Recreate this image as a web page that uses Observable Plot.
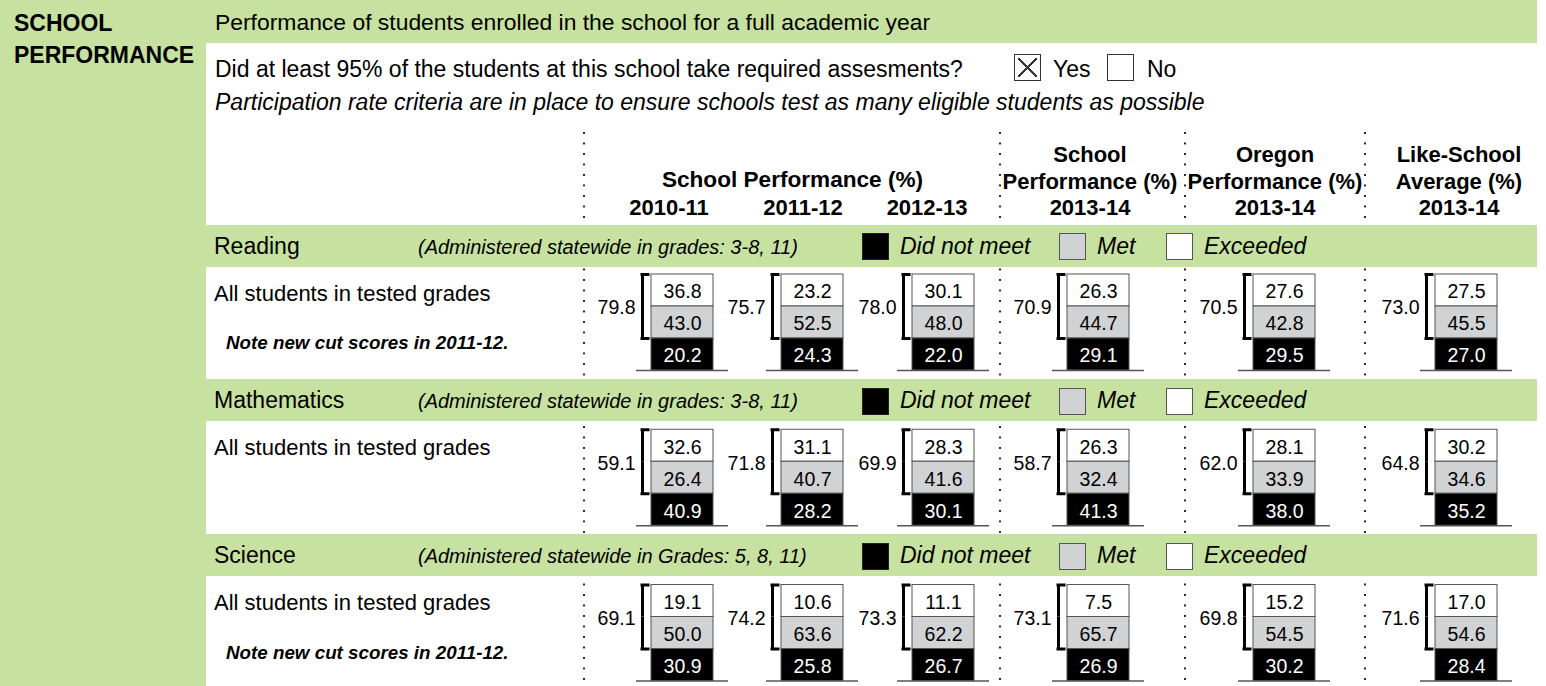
<!DOCTYPE html>
<html><head><meta charset="utf-8">
<script src="https://cdn.jsdelivr.net/npm/d3@7"></script>
<script src="https://cdn.jsdelivr.net/npm/@observablehq/plot@0.6"></script>
<style>
html,body{margin:0;padding:0;background:#fff;}
#page{position:relative;width:1546px;height:686px;overflow:hidden;font-family:"Liberation Sans",Arial,Helvetica,sans-serif;color:#000;}
.abs{position:absolute;}
.t{position:absolute;white-space:nowrap;line-height:1;}
.dots{position:absolute;width:2px;background-image:linear-gradient(to bottom,#222 2px,transparent 2px);background-size:2px 10.5px;}
.xbox::after{content:"";position:absolute;left:3px;top:3px;right:3px;bottom:3px;
background:linear-gradient(45deg,transparent calc(50% - 0.8px),#333 calc(50% - 0.8px),#333 calc(50% + 0.8px),transparent calc(50% + 0.8px)),
linear-gradient(-45deg,transparent calc(50% - 0.8px),#333 calc(50% - 0.8px),#333 calc(50% + 0.8px),transparent calc(50% + 0.8px));}
</style></head><body><div id="page"></div>
<script>
// ---------------- DATA ----------------
const subjects = ["Reading", "Mathematics", "Science"];
const columns = ["2010-11", "2011-12", "2012-13", "School 2013-14", "Oregon 2013-14", "Like-School 2013-14"];
const levels = ["Exceeded", "Met", "Did not meet"];
const levelColors = ["#ffffff", "#d1d2d4", "#000000"];

const readingExceeded = [36.8, 23.2, 30.1, 26.3, 27.6, 27.5];
const readingMet      = [43.0, 52.5, 48.0, 44.7, 42.8, 45.5];
const readingNotMet   = [20.2, 24.3, 22.0, 29.1, 29.5, 27.0];
const readingTotal    = [79.8, 75.7, 78.0, 70.9, 70.5, 73.0];

const mathExceeded = [32.6, 31.1, 28.3, 26.3, 28.1, 30.2];
const mathMet      = [26.4, 40.7, 41.6, 32.4, 33.9, 34.6];
const mathNotMet   = [40.9, 28.2, 30.1, 41.3, 38.0, 35.2];
const mathTotal    = [59.1, 71.8, 69.9, 58.7, 62.0, 64.8];

const scienceExceeded = [19.1, 10.6, 11.1, 7.5, 15.2, 17.0];
const scienceMet      = [50.0, 63.6, 62.2, 65.7, 54.5, 54.6];
const scienceNotMet   = [30.9, 25.8, 26.7, 26.9, 30.2, 28.4];
const scienceTotal    = [69.1, 74.2, 73.3, 73.1, 69.8, 71.6];

const adminNotes = ["(Administered statewide in grades: 3-8, 11)", "(Administered statewide in grades: 3-8, 11)", "(Administered statewide in Grades: 5, 8, 11)"];
const cutNotes = ["Note new cut scores in 2011-12.", "", "Note new cut scores in 2011-12."];

// --------------- TABLES ----------------
const seriesBySubject = {
  Reading: [readingExceeded, readingMet, readingNotMet, readingTotal],
  Mathematics: [mathExceeded, mathMet, mathNotMet, mathTotal],
  Science: [scienceExceeded, scienceMet, scienceNotMet, scienceTotal]
};
const segments = [], totals = [];
subjects.forEach(s => {
  const arr = seriesBySubject[s];
  columns.forEach((c, ci) => {
    levels.forEach((l, li) => segments.push({subject: s, column: c, level: l, value: arr[li][ci]}));
    totals.push({subject: s, column: c, value: arr[3][ci]});
  });
});

// --------------- LAYOUT ----------------
const FONT = '"Liberation Sans", Arial, Helvetica, sans-serif';
const GREEN = "#c7e1a0";
const page = document.getElementById("page");
function box(x, y, w, h, css = {}, cls = "abs") {
  const d = document.createElement("div"); d.className = cls;
  Object.assign(d.style, {left: x + "px", top: y + "px", width: w + "px", height: h + "px"}, css);
  page.appendChild(d); return d;
}
function text(str, x, base, fs, o = {}) {
  const d = document.createElement("div"); d.className = "t"; d.textContent = str;
  d.style.fontSize = fs + "px"; d.style.top = (base - 0.8465 * fs) + "px";
  if (o.align === "center") { d.style.left = (x - 400) + "px"; d.style.width = "800px"; d.style.textAlign = "center"; }
  else d.style.left = x + "px";
  if (o.bold) d.style.fontWeight = "bold";
  if (o.italic) d.style.fontStyle = "italic";
  page.appendChild(d); return d;
}

const bandTops = [224.5, 379, 534];
const BAND_H = 42.3;
// base green + white panels
box(0, 0, 1537, 686, {background: GREEN});
box(206, 43, 1340, 181.5, {background: "#fff"});
bandTops.forEach((t, i) => box(206, t + BAND_H, 1340, (i < 2 ? bandTops[i + 1] : 686) - t - BAND_H, {background: "#fff"}));
// dotted separators
[584, 1000, 1185, 1365].forEach(x => box(x - 1, 132, 2, 554, {}, "dots"));
// green subject bands
bandTops.forEach(t => box(206, t, 1331, BAND_H, {background: GREEN}));

// header texts
text("SCHOOL", 14, 31, 23, {bold: true});
text("PERFORMANCE", 14, 63, 23, {bold: true});
text("Performance of students enrolled in the school for a full academic year", 215, 30, 22.9);
text("Did at least 95% of the students at this school take required assesments?", 215, 77.5, 23);
text("Participation rate criteria are in place to ensure schools test as many eligible students as possible", 215, 110, 23, {italic: true});
box(1014, 54, 27, 27, {border: "1.5px solid #333", boxSizing: "border-box", background: "#fff"}, "abs xbox");
text("Yes", 1053, 77.5, 23);
box(1107, 54, 27, 27, {border: "1.5px solid #333", boxSizing: "border-box", background: "#fff"});
text("No", 1147, 77.5, 23);

text("School Performance (%)", 792.5, 188, 22.6, {bold: true, align: "center"});
[["2010-11", 669], ["2011-12", 803], ["2012-13", 927]].forEach(([s, x]) => text(s, x, 216, 22, {bold: true, align: "center"}));
[[["School", "Performance (%)", "2013-14"], 1090], [["Oregon", "Performance (%)", "2013-14"], 1275], [["Like-School", "Average (%)", "2013-14"], 1459]]
  .forEach(([lines, x]) => lines.forEach((s, i) => text(s, x, 162.5 + 26.8 * i, 22, {bold: true, align: "center"})));

// subject bands and row labels
subjects.forEach((s, i) => {
  const t = bandTops[i];
  text(s, 214, t + 29.5, 23);
  text(adminNotes[i], 418, t + 29, 20, {italic: true});
  box(862, t + 8.5, 27, 27, {background: "#000", border: "1px solid #222", boxSizing: "border-box"});
  text("Did not meet", 900, t + 29.5, 23, {italic: true});
  box(1059, t + 8.5, 27, 27, {background: levelColors[1], border: "1.5px solid #555", boxSizing: "border-box"});
  text("Met", 1097, t + 29.5, 23, {italic: true});
  box(1166, t + 8.5, 27, 27, {background: "#fff", border: "1.5px solid #555", boxSizing: "border-box"});
  text("Exceeded", 1204, t + 29.5, 23, {italic: true});
  const w = t + BAND_H;
  text("All students in tested grades", 214, w + 34.5, 22);
  if (cutNotes[i]) text(cutNotes[i], 226, w + 83.5, 18.8, {bold: true, italic: true});
});

// --------------- PLOTS (one per column, faceted by subject) ----------------
const barLefts = [651, 781, 912, 1067, 1253, 1435];
const BW = 62, ML = 62, MR = 20;
const BAR_H = 96, STEP = 155.25;
const P = 1 - BAR_H / STEP;
const H = STEP * (3 - P);
const SEG = BAR_H / levels.length;
const PLOT_TOP = 274;
const NUM_FS = 19.5;

columns.forEach((col, ci) => {
  const segs = segments.filter(d => d.column === col);
  const tots = totals.filter(d => d.column === col);
  const base = {x: "column", y: "level", fy: "subject"};
  const chart = Plot.plot({
    width: ML + BW + MR, height: H,
    marginLeft: ML, marginRight: MR, marginTop: 0, marginBottom: 0,
    style: {background: "transparent", overflow: "visible", fontFamily: FONT, maxWidth: "none"},
    x: {domain: [col], padding: 0, round: false, axis: null},
    y: {domain: levels, padding: 0, round: false, axis: null},
    fy: {domain: subjects, paddingInner: P, paddingOuter: 0, round: false, axis: null},
    color: {domain: levels, range: levelColors},
    marks: [
      Plot.cell(segs, {...base, fill: "level", stroke: "#555", strokeWidth: 1}),
      Plot.text(segs.filter(d => d.level !== levels[2]), {...base, text: d => d.value.toFixed(1), fill: "black", fontSize: NUM_FS, dy: 1.5}),
      Plot.text(segs.filter(d => d.level === levels[2]), {...base, text: d => d.value.toFixed(1), fill: "white", fontSize: NUM_FS, dy: 1.5}),
      Plot.tickY(segs.filter(d => d.level === levels[2]), {...base, dy: SEG / 2, insetLeft: -15, insetRight: -15, stroke: "#555", strokeWidth: 1.3}),
      Plot.tickX(segs.filter(d => d.level !== levels[2]), {...base, dx: -(BW / 2 + 9), stroke: "black", strokeWidth: 3}),
      Plot.tickY(segs.filter(d => d.level === levels[0]), {...base, dy: -SEG / 2, insetLeft: -10.5, insetRight: BW + 1.5, stroke: "black", strokeWidth: 3}),
      Plot.tickY(segs.filter(d => d.level === levels[1]), {...base, dy: SEG / 2, insetLeft: -10.5, insetRight: BW + 1.5, stroke: "black", strokeWidth: 3}),
      Plot.text(tots, {x: "column", y: () => levels[0], fy: "subject", text: d => d.value.toFixed(1), dx: -(BW / 2 + 16), dy: SEG / 2 + 1.5, textAnchor: "end", fill: "black", fontSize: NUM_FS})
    ]
  });
  const holder = box(barLefts[ci] - ML, PLOT_TOP, ML + BW + MR, H, {overflow: "visible"});
  holder.appendChild(chart);
});
</script></body></html>
